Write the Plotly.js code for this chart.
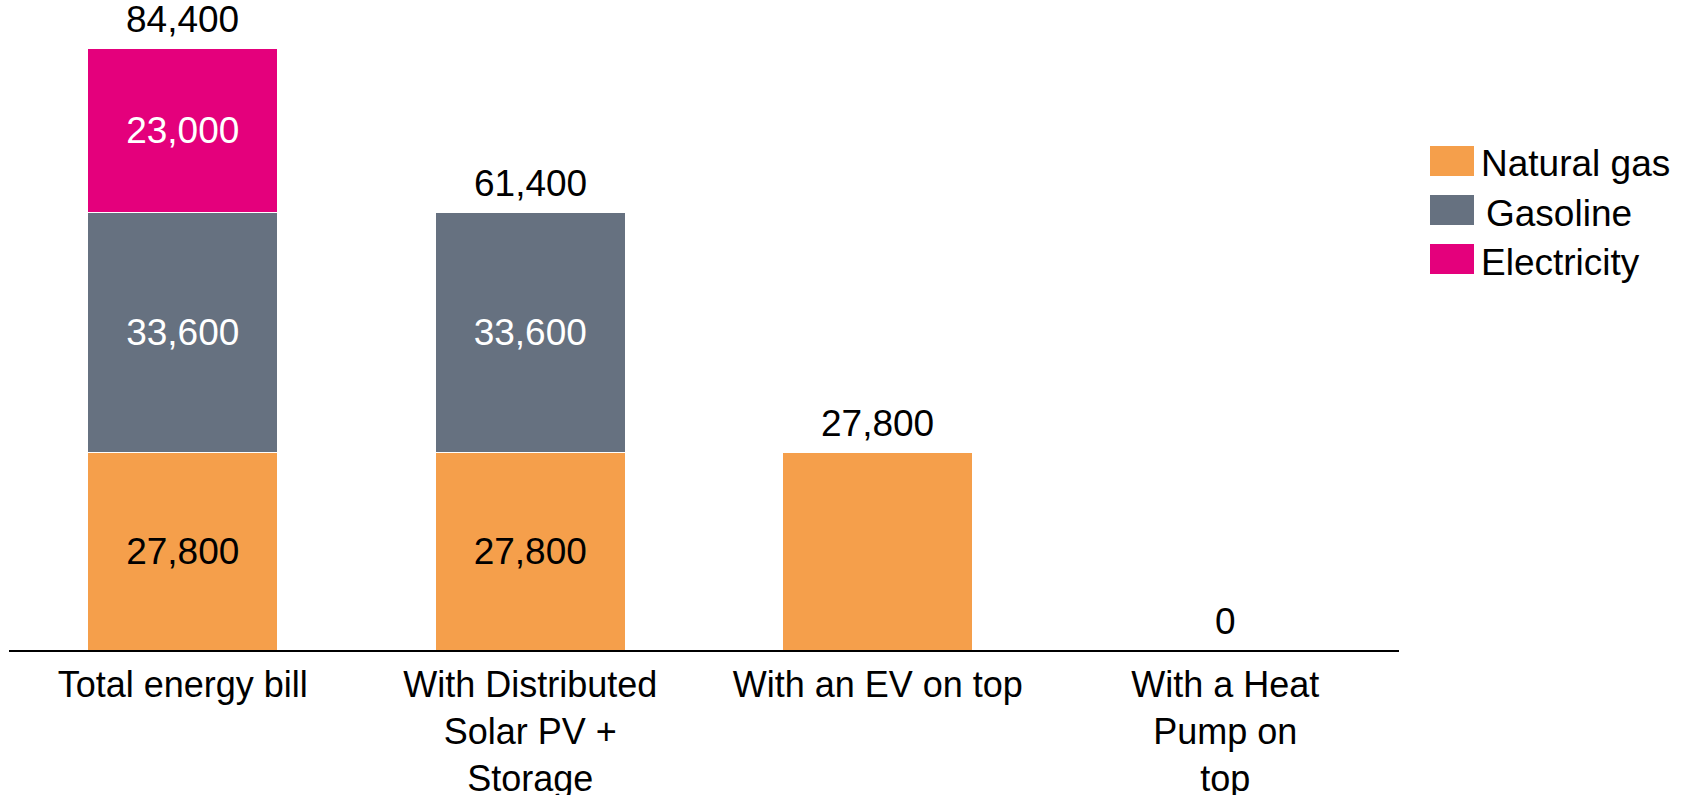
<!DOCTYPE html>
<html>
<head>
<meta charset="utf-8">
<script src="https://cdn.plot.ly/plotly-3.0.1.min.js"></script>
<style>html,body{margin:0;padding:0;background:#fff;}#chart{width:1686px;height:795px;}</style>
</head>
<body>
<div id="chart"></div>
<script>
// ---- data ----
const categories = [
  "Total energy bill",
  "With Distributed<br>Solar PV +<br>Storage",
  "With an EV on top",
  "With a Heat<br>Pump on<br>top"
];
const seriesNames = ["Natural gas", "Gasoline", "Electricity"];
const naturalGas = [27800, 27800, 27800, 0];
const gasoline   = [33600, 33600, 0, 0];
const electricity = [23000, 0, 0, 0];
const seriesColors = ["#F59F4B", "#667180", "#E4007C"];
const insideTextColors = ["#000000", "#ffffff", "#ffffff"];

// ---- build ----
const seriesValues = [naturalGas, gasoline, electricity];
const totals = categories.map((c, i) => seriesValues.reduce((s, arr) => s + arr[i], 0));
const fmt = v => v.toLocaleString("en-US");
const FONT = "Liberation Sans, Arial, sans-serif";

const traces = seriesValues.map((vals, k) => ({
  type: "bar",
  name: seriesNames[k],
  x: categories,
  y: vals,
  marker: { color: seriesColors[k], line: { color: "#ffffff", width: 1 } },
  text: vals.map((v, i) => (v > 0 && totals[i] > v) ? fmt(v) : ""),
  textposition: "inside",
  insidetextanchor: "middle",
  textangle: 0,
  constraintext: "none",
  textfont: { family: FONT, size: 37, color: insideTextColors[k] },
  hoverinfo: "x+y+name",
  showlegend: false
}));

// plot area geometry (px) for legend placement in paper coords
const L = 9, R = 1399, T = 9, B = 650;
const px2x = p => (p - L) / (R - L);
const px2y = p => (B - p) / (B - T);

const annotations = categories.map((c, i) => ({
  x: c, y: totals[i], xref: "x", yref: "y",
  text: fmt(totals[i]),
  showarrow: false, yanchor: "middle", yshift: 29,
  font: { family: FONT, size: 37, color: "#000000" }
}));

const shapes = [];
const legendRows = [161, 210, 259];
seriesNames.forEach((n, k) => {
  shapes.push({
    type: "rect", xref: "paper", yref: "paper",
    x0: px2x(1430), x1: px2x(1474),
    y0: px2y(legendRows[k] + 15), y1: px2y(legendRows[k] - 15),
    fillcolor: seriesColors[k], line: { width: 0 }
  });
  annotations.push({
    xref: "paper", yref: "paper",
    x: px2x(k === 1 ? 1484 : 1479), y: px2y(legendRows[k] + 3),
    xanchor: "left", yanchor: "middle", showarrow: false,
    text: n, font: { family: FONT, size: 37, color: "#000000" }
  });
});

const layout = {
  width: 1686, height: 795,
  margin: { l: L, r: 1686 - R, t: T, b: 795 - B, pad: 0 },
  paper_bgcolor: "#ffffff", plot_bgcolor: "#ffffff",
  barmode: "stack",
  bargap: 0.453,
  showlegend: false,
  font: { family: FONT, size: 36, color: "#000000" },
  xaxis: {
    type: "category",
    range: [-0.5, 3.5],
    showline: true, linecolor: "#000000", linewidth: 2,
    ticks: "", showgrid: false, zeroline: false,
    tickfont: { family: FONT, size: 36, color: "#000000" },
    ticklabelstandoff: 2
  },
  yaxis: {
    range: [0, 90000],
    visible: false, showgrid: false, zeroline: false
  },
  annotations: annotations,
  shapes: shapes
};

Plotly.newPlot("chart", traces, layout, { displayModeBar: false, staticPlot: true });
</script>
</body>
</html>
